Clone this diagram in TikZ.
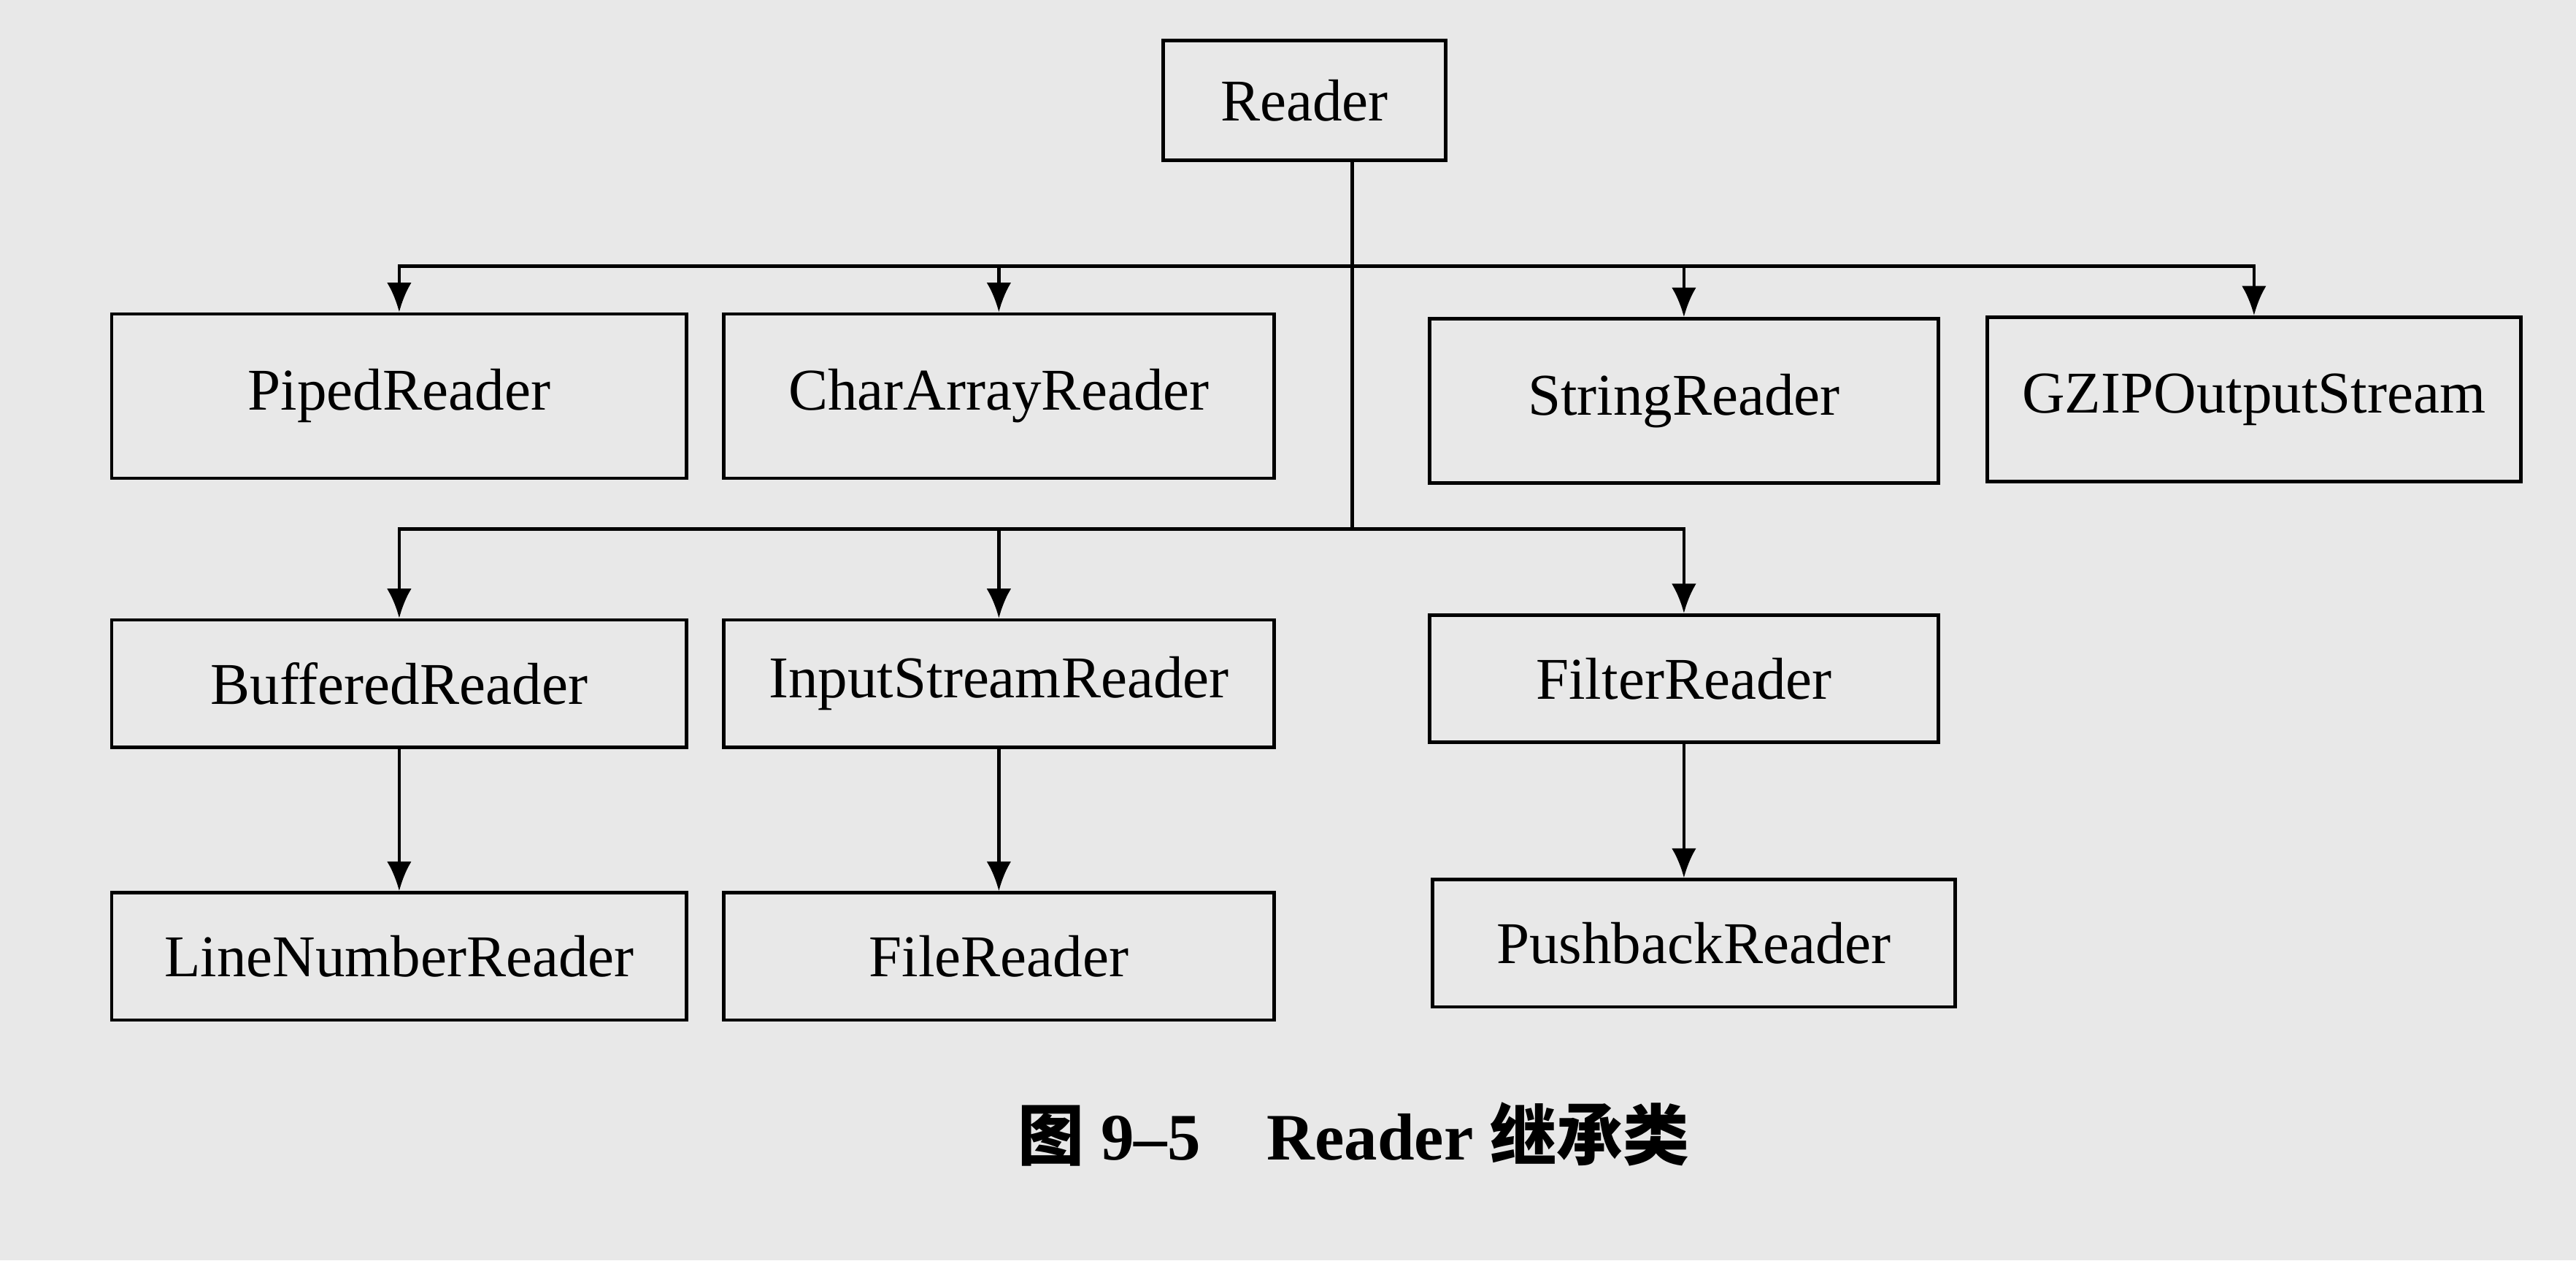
\documentclass[tikz,border=0pt]{standalone}
\usepackage{fontspec}
\setmainfont{Liberation Serif}
\newfontfamily\cjk{Noto Sans CJK SC}
\usetikzlibrary{positioning,arrows.meta}
\begin{document}
\begin{tikzpicture}[x=0.02cm,y=-0.02cm,>={Latex[length=0.36cm,width=0.3cm]},thick,
  cls/.style={draw,line width=1.2pt,minimum width=6.7cm,minimum height=1.55cm,font=\fontsize{20.5}{24}\selectfont,inner sep=0pt},
  tall/.style={cls,minimum height=2cm},
  inh/.style={->,line width=1.2pt}]
\fill[gray!18] (0,0) rectangle (1568,767);
\useasboundingbox (0,0) rectangle (1568,767);
% root
\node[cls,minimum width=3.44cm,minimum height=1.46cm] (reader) at (794,61) {Reader};
% first row
\node[tall,minimum width=7cm] (piped) at (243,241) {PipedReader};
\node[tall] (chararray) at (608,241) {CharArrayReader};
\node[tall,minimum width=6.2cm] (string) at (1025,244) {StringReader};
\node[tall,minimum width=6.5cm] (gzip) at (1372,243) {GZIPOutputStream};
% second row
\node[cls,minimum width=7cm] (buffered) at (243,416) {BufferedReader};
\node[cls] (inputstream) at (608,416) {InputStreamReader};
\node[cls,minimum width=6.2cm] (filter) at (1025,413) {FilterReader};
% third row
\node[cls,minimum width=7cm] (linenumber) at (243,582) {LineNumberReader};
\node[cls] (file) at (608,582) {FileReader};
\node[cls,minimum width=6.36cm] (pushback) at (1031,574) {PushbackReader};
% connectors
\coordinate (t1) at (823,162);
\coordinate (t2) at (823,322);
\draw[line width=1.2pt] (reader.south -| t1) -- (t2);
\draw[inh] (t1) -| (piped.north);
\draw[inh] (t1) -| (chararray.north);
\draw[inh] (t1) -| (string.north);
\draw[inh] (t1) -| (gzip.north);
\draw[inh] (t2) -| (buffered.north);
\draw[inh] (t2) -| (inputstream.north);
\draw[inh] (t2) -| (filter.north);
\draw[inh] (buffered) -- (linenumber);
\draw[inh] (inputstream) -- (file);
\draw[inh] (filter.south) -- (filter.south |- pushback.north);
% caption
\node[font=\fontsize{23}{26}\selectfont\bfseries] (caption) at (824,690) {{\cjk 图} 9–5\quad Reader {\cjk 继承类}};
\end{tikzpicture}
\end{document}
